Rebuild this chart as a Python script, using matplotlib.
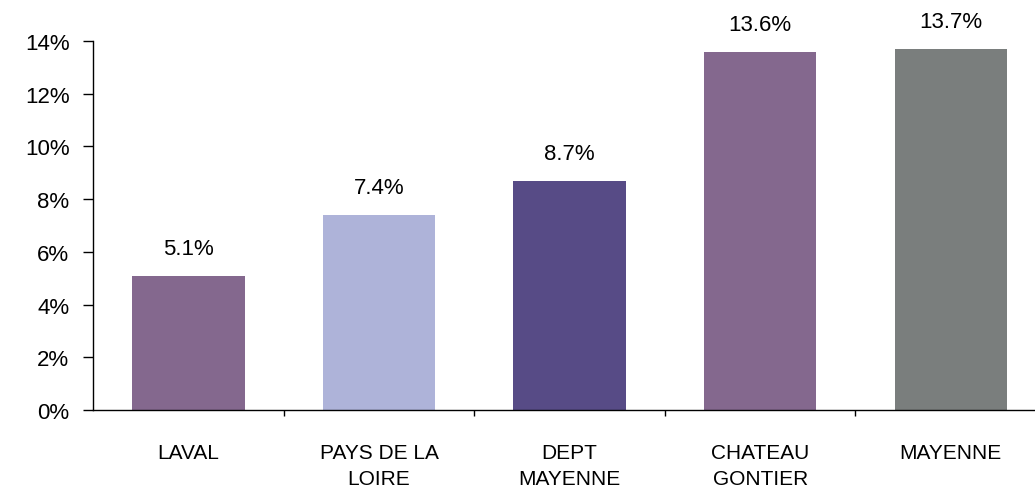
import matplotlib
matplotlib.use("Agg")
import matplotlib.pyplot as plt
from matplotlib.ticker import FuncFormatter

plt.rcParams['font.family'] = ['Liberation Sans', 'DejaVu Sans']

# data
categories = ["LAVAL", "PAYS DE LA\nLOIRE", "DEPT\nMAYENNE", "CHATEAU\nGONTIER", "MAYENNE"]
values = [5.1, 7.4, 8.7, 13.6, 13.7]
colors = ["#84688e", "#aeb3d9", "#574b86", "#84688e", "#7a7e7d"]

fig = plt.figure(figsize=(10.35, 4.89), dpi=100)
ax = fig.add_axes([0.0899, 0.1595, 0.9208, 0.7546])

x = list(range(len(categories)))
ax.bar(x, values, width=0.59, color=colors)

for xi, v in zip(x, values):
    ax.annotate(f"{v:.1f}%", (xi, v), xytext=(0, 12), textcoords="offset points",
                ha="center", va="bottom", fontsize=16)

ax.set_xlim(-0.5, 4.5)
ax.set_ylim(0, 14)
ax.set_yticks(range(0, 15, 2))
ax.yaxis.set_major_formatter(FuncFormatter(lambda v, p: f"{v:.0f}%"))
ax.tick_params(axis="y", labelsize=16, length=7, width=1, pad=10)

ax.set_xticks(x)
ax.set_xticklabels(categories, fontsize=15, va="top", linespacing=1.45)
ax.tick_params(axis="x", which="major", length=0, pad=24)
ax.set_xticks([0.5, 1.5, 2.5, 3.5], minor=True)
ax.tick_params(axis="x", which="minor", length=4, width=1, direction="out")

for s in ["top", "right"]:
    ax.spines[s].set_visible(False)
for s in ["left", "bottom"]:
    ax.spines[s].set_linewidth(1)
    ax.spines[s].set_color("black")

fig.savefig("out.png", dpi=100)
